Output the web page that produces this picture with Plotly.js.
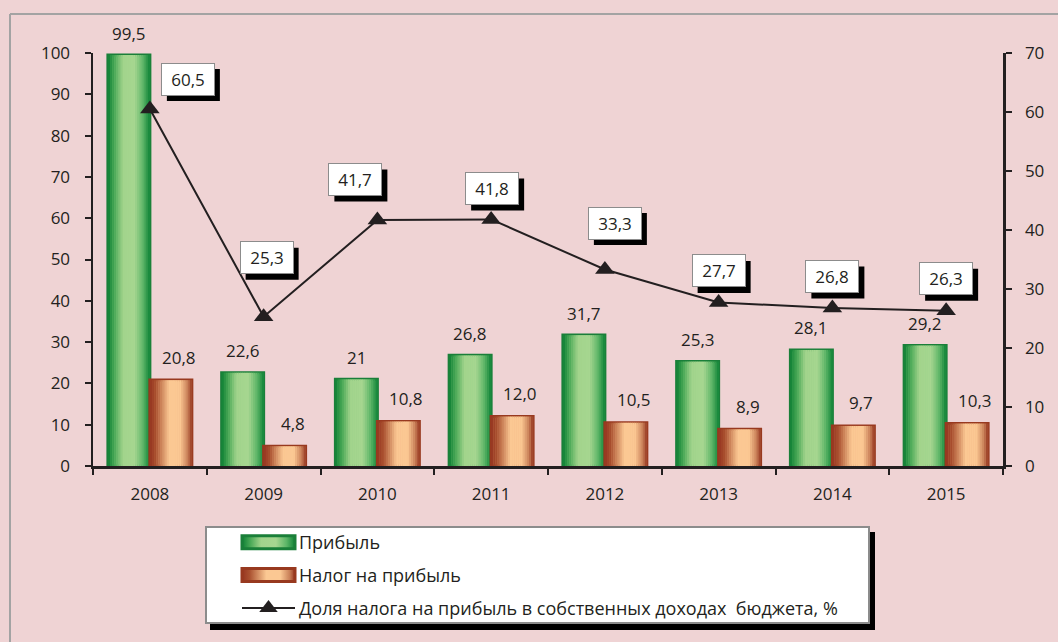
<!DOCTYPE html>
<html>
<head>
<meta charset="utf-8">
<script src="https://cdn.plot.ly/plotly-3.0.1.min.js"></script>
<style>html,body{margin:0;padding:0;background:#efd3d4;}#chart{width:1058px;height:642px;}</style>
</head>
<body>
<div id="chart"></div>
<script>
// ---- data ----
const categories = ['2008', '2009', '2010', '2011', '2012', '2013', '2014', '2015'];
const profit = [99.5, 22.6, 21, 26.8, 31.7, 25.3, 28.1, 29.2];
const profitLabels = ['99,5', '22,6', '21', '26,8', '31,7', '25,3', '28,1', '29,2'];
const tax = [20.8, 4.8, 10.8, 12.0, 10.5, 8.9, 9.7, 10.3];
const taxLabels = ['20,8', '4,8', '10,8', '12,0', '10,5', '8,9', '9,7', '10,3'];
const share = [60.5, 25.3, 41.7, 41.8, 33.3, 27.7, 26.8, 26.3];
const shareLabels = ['60,5', '25,3', '41,7', '41,8', '33,3', '27,7', '26,8', '26,3'];
const seriesNames = ['Прибыль', 'Налог на прибыль', 'Доля налога на прибыль в собственных доходах  бюджета, %'];

// ---- label box placement (pixels, relative to the point) ----
const boxDx = [38, 3, -22, 1, 10, 0, 0, 0];
const boxDy = [30, 59, 40.5, 31, 46.5, 31.6, 31.5, 32];

// ---- styles ----
const FONT = 'Open Sans, Noto Sans, sans-serif';
const INK = '#231f20';
const BG = '#efd3d4';
const BAR_W = 0.369;
const SLICES = 20;
const greenStops = [[0, '#0e8034'], [0.16, '#4aa957'], [0.36, '#a2d48c'], [0.64, '#a6d690'], [0.84, '#5cb567'], [1, '#0f8336']];
const orangeStops = [[0, '#963520'], [0.14, '#a9502f'], [0.46, '#fbc893'], [0.72, '#fbc893'], [0.9, '#c98058'], [1, '#963620']];

function hex(c) { return [1, 3, 5].map(i => parseInt(c.substr(i, 2), 16)); }
function colorAt(stops, t) {
  for (let k = 0; k < stops.length - 1; k++) {
    const a = stops[k], b = stops[k + 1];
    if (t >= a[0] && t <= b[0]) {
      const f = (t - a[0]) / (b[0] - a[0]);
      const ca = hex(a[1]), cb = hex(b[1]);
      const m = ca.map((v, j) => Math.round(v + (cb[j] - v) * f));
      return 'rgb(' + m.join(',') + ')';
    }
  }
  return stops[stops.length - 1][1];
}

const traces = [];
function barSeries(values, name, offset, stops, edge, mid, group) {
  traces.push({
    type: 'bar', x: categories, y: values, name: name, legendgroup: group,
    offset: offset, width: BAR_W,
    marker: { color: mid, line: { color: edge, width: 3 } },
    hoverinfo: 'skip'
  });
  for (let i = 0; i < SLICES; i++) {
    const t = (i + 0.5) / SLICES;
    traces.push({
      type: 'bar', x: categories, y: values, name: name, legendgroup: group, showlegend: false,
      offset: offset + BAR_W * i / SLICES, width: BAR_W / SLICES + 0.003,
      marker: { color: colorAt(stops, t), line: { width: 0 } },
      hoverinfo: 'skip'
    });
  }
}
barSeries(profit, seriesNames[0], -BAR_W, greenStops, '#1a7f39', '#8fcc86', 'g1');
barSeries(tax, seriesNames[1], 0, orangeStops, '#98391f', '#eaa97c', 'g2');

traces.push({
  type: 'scatter', mode: 'lines+markers', x: categories, y: share, yaxis: 'y2',
  name: seriesNames[2], legendgroup: 'g3',
  line: { color: INK, width: 2 },
  marker: { symbol: 'triangle-up', size: 17, color: INK },
  hoverinfo: 'skip'
});

// ---- annotations ----
const annotations = [];
profit.forEach((v, i) => annotations.push({
  x: i, y: v, xref: 'x', yref: 'y', text: profitLabels[i], showarrow: false,
  xshift: -21, yshift: 22, font: { family: FONT, size: 17, color: INK }
}));
tax.forEach((v, i) => annotations.push({
  x: i, y: v, xref: 'x', yref: 'y', text: taxLabels[i], showarrow: false,
  xshift: 29, yshift: 23, font: { family: FONT, size: 17, color: INK }
}));
share.forEach((v, i) => annotations.push({
  x: i, y: v, xref: 'x', yref: 'y2', text: shareLabels[i], showarrow: false,
  xshift: boxDx[i], yshift: boxDy[i], width: 48, height: 27, borderpad: 2,
  bgcolor: '#ffffff', bordercolor: '#8c8c8c', borderwidth: 1,
  font: { family: FONT, size: 17, color: INK }
}));

// ---- shapes (shadows, frame) ----
const px2x = px => (px - 93) / 910;
const px2y = py => (466 - py) / 413;
const LEG = { left: 205, top: 527, width: 665, height: 98, itemsTop: 522 };
const shapes = [];
share.forEach((v, i) => shapes.push({
  type: 'rect', xref: 'x', yref: 'y2', xsizemode: 'pixel', ysizemode: 'pixel',
  xanchor: i, yanchor: v,
  x0: boxDx[i] - 21, x1: boxDx[i] + 32, y0: boxDy[i] - 22, y1: boxDy[i] + 10,
  fillcolor: '#000000', line: { width: 0 }, layer: 'above'
}));
shapes.push({ type: 'line', xref: 'paper', yref: 'paper', x0: px2x(10), x1: px2x(1060), y0: px2y(14), y1: px2y(14),
  line: { color: '#a3a3a3', width: 2 } });
shapes.push({ type: 'line', xref: 'paper', yref: 'paper', x0: px2x(10), x1: px2x(10), y0: px2y(14), y1: px2y(645),
  line: { color: '#a3a3a3', width: 2 } });
shapes.push({ type: 'rect', xref: 'paper', yref: 'paper',
  x0: px2x(LEG.left + 5), x1: px2x(LEG.left + LEG.width + 5),
  y0: px2y(LEG.top + LEG.height + 5), y1: px2y(LEG.top + 5),
  fillcolor: '#000000', line: { width: 0 }, layer: 'above' });

const tickFont = { family: FONT, size: 17, color: INK };
const layout = {
  width: 1058, height: 642,
  margin: { l: 93, r: 55, t: 53, b: 176, pad: 0 },
  paper_bgcolor: BG, plot_bgcolor: BG,
  barmode: 'overlay',
  showlegend: true,
  hovermode: false,
  xaxis: {
    type: 'category', range: [-0.5, 7.5], showline: true, linecolor: INK, linewidth: 2.5,
    ticks: 'outside', tickson: 'boundaries', ticklen: 6, tickwidth: 2, tickcolor: INK,
    showgrid: false, zeroline: false, tickfont: tickFont, ticklabelstandoff: 11, fixedrange: true
  },
  xaxis2: {
    overlaying: 'x', anchor: 'y', range: [-0.5, 7.5], tickmode: 'array',
    tickvals: [-0.5, 0.5, 1.5, 2.5, 3.5, 4.5, 5.5, 6.5, 7.5],
    ticks: 'inside', ticklen: 6, tickwidth: 2, tickcolor: INK, showticklabels: false,
    showline: false, showgrid: false, zeroline: false
  },
  yaxis: {
    range: [0, 100], dtick: 10, showline: true, linecolor: INK, linewidth: 2.5,
    ticks: 'outside', ticklen: 6, tickwidth: 2, tickcolor: INK, showgrid: false, zeroline: false,
    tickfont: tickFont, ticklabelstandoff: 11, fixedrange: true
  },
  yaxis2: {
    range: [0, 70], dtick: 10, overlaying: 'y', side: 'right', anchor: 'x',
    showline: true, linecolor: INK, linewidth: 2.5,
    ticks: 'outside', ticklen: 6, tickwidth: 2, tickcolor: INK, showgrid: false, zeroline: false,
    tickfont: tickFont, ticklabelstandoff: 10, fixedrange: true
  },
  yaxis3: {
    range: [0, 100], dtick: 10, overlaying: 'y', side: 'left', anchor: 'x',
    ticks: 'inside', ticklen: 6, tickwidth: 2, tickcolor: INK, showticklabels: false,
    showline: false, showgrid: false, zeroline: false
  },
  yaxis4: {
    range: [0, 70], dtick: 10, overlaying: 'y', side: 'right', anchor: 'x',
    ticks: 'inside', ticklen: 6, tickwidth: 2, tickcolor: INK, showticklabels: false,
    showline: false, showgrid: false, zeroline: false
  },
  legend: {
    x: px2x(LEG.left), y: px2y(LEG.itemsTop), xanchor: 'left', yanchor: 'top',
    bgcolor: '#ffffff', bordercolor: '#8c8c8c', borderwidth: 2,
    font: { family: FONT, size: 18, color: INK },
    itemwidth: 82, tracegroupgap: 6.5, traceorder: 'grouped'
  },
  annotations: annotations,
  shapes: shapes
};

const gd = document.getElementById('chart');
Plotly.newPlot(gd, traces, layout, { displayModeBar: false, staticPlot: true }).then(() => {
  const host = gd.getBoundingClientRect();
  // legend frame: same box as the original (white panel with grey border)
  const bg = gd.querySelector('.legend .bg');
  const bb = bg.getBoundingClientRect();
  const dy = LEG.top - (bb.top - host.top);
  const y0 = parseFloat(bg.getAttribute('y') || 0);
  bg.setAttribute('y', y0 + dy);
  bg.setAttribute('height', LEG.height - 2);
  bg.setAttribute('width', LEG.width - 2);
  // wide gradient swatches
  const svg = gd.querySelector('svg.main-svg');
  const ns = 'http://www.w3.org/2000/svg';
  let defs = svg.querySelector('defs');
  function grad(id, stops) {
    const g = document.createElementNS(ns, 'linearGradient');
    g.setAttribute('id', id);
    g.setAttribute('x1', '0'); g.setAttribute('x2', '1'); g.setAttribute('y1', '0'); g.setAttribute('y2', '0');
    stops.forEach(s => {
      const st = document.createElementNS(ns, 'stop');
      st.setAttribute('offset', s[0]);
      st.setAttribute('stop-color', s[1]);
      g.appendChild(st);
    });
    defs.appendChild(g);
  }
  grad('legGreen', greenStops);
  grad('legOrange', orangeStops);
  const items = gd.querySelectorAll('.legend .traces');
  const fills = ['url(#legGreen)', 'url(#legOrange)', null];
  items.forEach((tr, k) => {
    const txt = tr.querySelector('.legendtext');
    if (!txt) return;
    const tb = txt.getBoundingClientRect();
    const targetRight = tb.left - 4;
    const targetLeft = targetRight - 53;
    const targetCenter = (targetLeft + targetRight) / 2;
    if (fills[k]) {
      const lp = tr.querySelector('.legendpoints');
      lp.querySelectorAll('path').forEach(p => {
        const b = p.getBBox();
        const c = b.x + b.width / 2;
        p.setAttribute('d', `M${c - 26.5},6.5h53v-13h-53Z`);
        p.style.fill = fills[k];
      });
      const lb = lp.getBoundingClientRect();
      const shift = targetCenter - (lb.left + lb.width / 2);
      lp.setAttribute('transform', (lp.getAttribute('transform') || '') + ` translate(${shift},0)`);
    } else {
      tr.querySelectorAll('path').forEach(p => {
        const b = p.getBBox();
        const r = p.getBoundingClientRect();
        if (p.classList.contains('js-line') || (b.height < 4 && b.width > 20)) {
          const off = r.left - b.x;
          p.setAttribute('d', `M${targetLeft - off},${b.y}h53`);
        } else if (r.width > 0 && r.width < 30) {
          const shift = targetCenter - (r.left + r.width / 2);
          p.setAttribute('transform', (p.getAttribute('transform') || '') + ` translate(${shift},0)`);
        }
      });
    }
  });
});
</script>
</body>
</html>
